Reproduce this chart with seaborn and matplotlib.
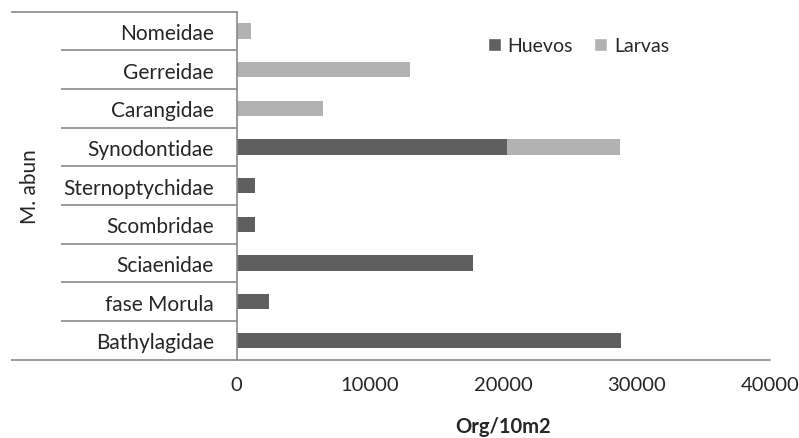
import pandas as pd
import seaborn as sns
import matplotlib.pyplot as plt
import matplotlib.transforms as mtransforms
from matplotlib.patches import Patch

# Data (Org/10m2)
familias = ["Nomeidae", "Gerreidae", "Carangidae", "Synodontidae", "Sternoptychidae",
            "Scombridae", "Sciaenidae", "fase Morula", "Bathylagidae"]
huevos = [0, 0, 0, 20300, 1400, 1400, 17700, 2450, 28800]
larvas = [1100, 13000, 6450, 8450, 0, 0, 0, 0, 0]
xticks = [0, 10000, 20000, 30000, 40000]

color_huevos = "#5f5f5f"
color_larvas = "#b2b2b2"
line_gray = "#8a8a8a"
fs = 15

df = pd.DataFrame({"familia": familias, "huevos": huevos, "larvas": larvas})
df["total"] = df["huevos"] + df["larvas"]

sns.set_style("white")
plt.rcParams["font.family"] = ["Lato", "DejaVu Sans"]

fig = plt.figure(figsize=(7.99, 4.39), dpi=100)
W, H = 799, 439
x0, x1, ytop, ybot = 236.7, 770, 12.7, 360.7
ax = fig.add_axes([x0 / W, 1 - ybot / H, (x1 - x0) / W, (ybot - ytop) / H])

# Stacked bars: total (larvas colour) underneath, huevos on top
sns.barplot(data=df, y="familia", x="total", order=familias, color=color_larvas,
            width=0.4, saturation=1, ax=ax, linewidth=0)
sns.barplot(data=df, y="familia", x="huevos", order=familias, color=color_huevos,
            width=0.4, saturation=1, ax=ax, linewidth=0)

ax.set_xlim(0, 40000)
ax.set_ylim(len(familias) - 0.5, -0.5)
ax.set_xticks(xticks)
ax.set_xticklabels([str(t) for t in xticks], fontsize=14.5)
ax.tick_params(axis="x", length=5, width=1, color=line_gray, pad=7)
ax.tick_params(axis="y", length=0, pad=16.5, labelsize=fs)
ax.set_xlabel("")
ax.set_ylabel("")

for side in ["top", "right"]:
    ax.spines[side].set_visible(False)
for side in ["left", "bottom"]:
    ax.spines[side].set_color(line_gray)
    ax.spines[side].set_linewidth(1.2)

# Excel-style category table lines on the left
trans = mtransforms.blended_transform_factory(fig.transFigure, ax.transData)
for k in range(len(familias) + 1):
    yb = k - 0.5
    xs = 11 / W if k in (0, len(familias)) else 61 / W
    ax.plot([xs, x0 / W], [yb, yb], transform=trans, color=line_gray, lw=1.2,
            clip_on=False, solid_capstyle="butt")
# y-axis line continues below the x axis a bit
ax.plot([x0 / W, x0 / W], [1 - ybot / H, 1 - 368 / H], transform=fig.transFigure,
        color=line_gray, lw=1.2)

fig.text(30 / W, 1 - 187 / H, "M. abun", rotation=90, ha="center", va="center", fontsize=fs)
fig.text((x0 + x1) / 2 / W, 1 - 427 / H, "Org/10m2", ha="center", va="center",
         fontsize=14.5, fontweight="bold")

handles = [Patch(facecolor=color_huevos, label="Huevos"),
           Patch(facecolor=color_larvas, label="Larvas")]
fig.legend(handles=handles, loc="center left", bbox_to_anchor=(488 / W, 1 - 47 / H),
           ncol=2, frameon=False, fontsize=14, handlelength=0.65, handleheight=0.65,
           handletextpad=0.35, columnspacing=1.1, borderpad=0, borderaxespad=0)

fig.savefig("out.png", dpi=100)
